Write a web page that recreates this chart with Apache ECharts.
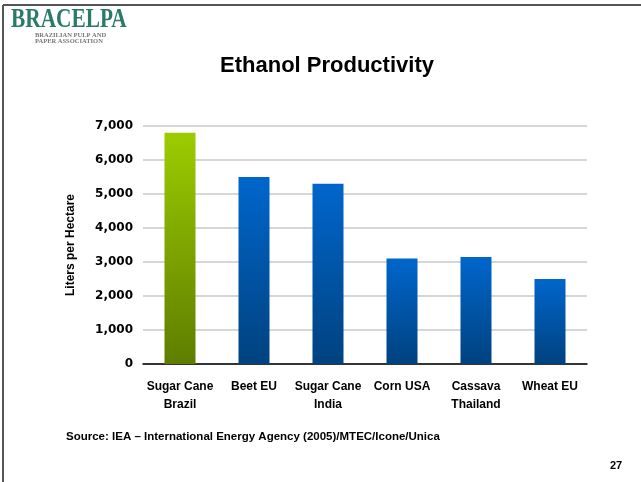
<!DOCTYPE html>
<html><head><meta charset="utf-8">
<script src="https://cdn.jsdelivr.net/npm/echarts@6/dist/echarts.min.js"></script>
<style>html,body{margin:0;padding:0;background:#fff}#c{width:641px;height:482px}</style>
</head><body><div id="c"></div>
<script>
var categories = ['Sugar Cane\nBrazil', 'Beet EU', 'Sugar Cane\nIndia', 'Corn USA', 'Cassava\nThailand', 'Wheat EU'];
var values = [6800, 5500, 5300, 3100, 3150, 2500];
var yTicks = [0, 1000, 2000, 3000, 4000, 5000, 6000, 7000];

var green = new echarts.graphic.LinearGradient(0,0,0,1,[{offset:0,color:'#9ccc00'},{offset:1,color:'#5e7d00'}]);
var blue = new echarts.graphic.LinearGradient(0,0,0,1,[{offset:0,color:'#0066cc'},{offset:1,color:'#00427f'}]);
var font = '"Liberation Sans", Arial, sans-serif';
var chart = echarts.init(document.getElementById('c'), null, {renderer:'canvas'});
chart.setOption({
  animation:false,
  backgroundColor:'#fff',
  title:{text:'Ethanol Productivity', left:322, top:50, textAlign:'center',
    textStyle:{fontFamily:font, fontSize:22, fontWeight:'bold', color:'#000'}},
  grid:{left:143, right:54, top:126, bottom:118},
  xAxis:{type:'category', data:categories,
    axisLine:{lineStyle:{color:'#000', width:1.5}},
    axisTick:{lineStyle:{color:'#888'}, length:4},
    axisLabel:{fontFamily:font, fontSize:12, fontWeight:'bold', color:'#000', margin:14, lineHeight:18, interval:0}},
  yAxis:{type:'value', min:yTicks[0], max:yTicks[yTicks.length-1], interval:1000,
    name:'Liters per Hectare', nameLocation:'middle', nameGap:66, nameRotate:90,
    nameTextStyle:{fontFamily:font, fontSize:12, fontWeight:'bold', color:'#000'},
    axisLine:{show:false}, axisTick:{show:false},
    splitLine:{lineStyle:{color:'#c8c8c8', width:1.5}},
    axisLabel:{fontFamily:'"DejaVu Sans", sans-serif', fontSize:12, fontWeight:'bold', color:'#000', margin:10,
      formatter:function(v){return v.toLocaleString('en-US');}}},
  series:[{type:'bar', barWidth:31, data:values.map(function(v,i){return {value:v, itemStyle:{color: i===0?green:blue}};})}],
  graphic:[
    {type:'line', shape:{x1:3,y1:5,x2:641,y2:5}, style:{stroke:'#555', lineWidth:2}},
    {type:'line', shape:{x1:3,y1:5,x2:3,y2:482}, style:{stroke:'#555', lineWidth:2}},
    {type:'text', x:11, y:7, scaleX:0.79, style:{text:'BRACELPA', font:'bold 27px "Liberation Serif", serif', fill:'#2a7a68'}},
    {type:'text', x:35, y:32, style:{text:'BRAZILIAN PULP AND\nPAPER ASSOCIATION', font:'bold 6.5px "Liberation Serif", serif', fill:'#777', lineHeight:6.5}},
    {type:'text', left:66, top:431, style:{text:'Source: IEA \u2013 International Energy Agency (2005)/MTEC/Icone/Unica', font:'bold 11.5px '+font, fill:'#000'}},
    {type:'text', left:610, top:460, style:{text:'27', font:'bold 11px '+font, fill:'#000'}}
  ]
});
</script></body></html>
